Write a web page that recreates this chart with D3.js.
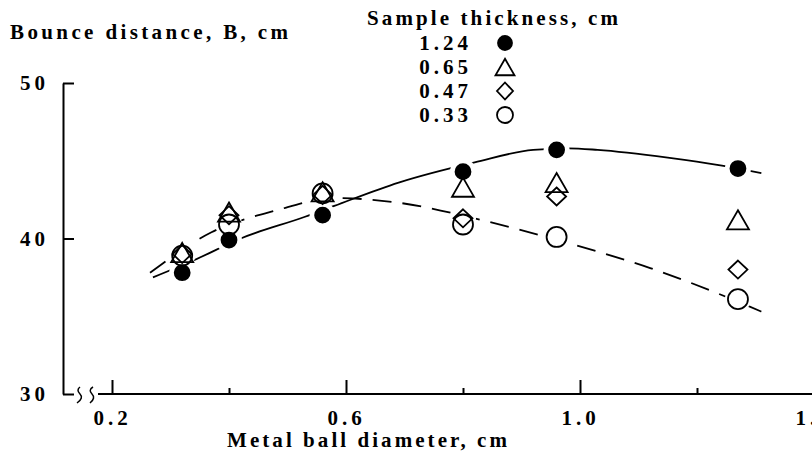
<!DOCTYPE html>
<head>
<meta charset="utf-8">
<style>
body { margin: 0; background: white; }
text { font-family: "Liberation Serif", "Times New Roman", serif; font-weight: bold; fill: black; }
.axis text { font-size: 21px; letter-spacing: 4px; }
.axis line, .axis path, .axisline { stroke: black; stroke-width: 2px; fill: none; }
.curve { fill: none; stroke: black; stroke-width: 1.8px; }
.mark { stroke: black; stroke-width: 1.8px; }
</style>
</head>
<body>
<div id="mainDiv"></div>
<script src="https://d3js.org/d3.v7.min.js"></script>
<script>

var width = 812;
var height = 458;

// measured points, ball diameter (cm) vs bounce distance B (cm)
var diameters = [0.32, 0.40, 0.56, 0.80, 0.96, 1.27];
var b124 = [37.8, 39.9, 41.5, 44.3, 45.7, 44.5];
var b065 = [39.1, 41.7, 43.0, 43.3, 43.6, 41.2];
var b047 = [39.0, 41.5, 42.8, 41.3, 42.7, 38.0];
var b033 = [38.9, 40.9, 42.9, 40.9, 40.1, 36.1];
var thickness = ["1.24", "0.65", "0.47", "0.33"];

// the two hand drawn trend curves
var solidX = [0.27, 0.34, 0.42, 0.53, 0.58, 0.69, 0.82, 0.92, 0.98, 1.03, 1.15, 1.24, 1.31];
var solidY = [37.5, 38.6, 40.0, 41.4, 42.1, 43.6, 44.9, 45.7, 45.8, 45.7, 45.2, 44.7, 44.2];
var dashX = [0.265, 0.37, 0.48, 0.58, 0.69, 0.83, 0.98, 1.12, 1.24, 1.31];
var dashY = [37.8, 40.4, 41.8, 42.6, 42.3, 41.2, 39.7, 38.1, 36.4, 35.3];

var xMajor = [0.2, 0.6, 1.0, 1.4];
var xMinor = [0.4, 0.8, 1.2];
var yTicks = [30, 40, 50];

var x = d3.scaleLinear().domain([0.2, 1.4]).range([112, 814]);
var y = d3.scaleLinear().domain([30, 50]).range([394, 83]);

var svg = d3.select("#mainDiv").append("svg")
    .attr("width", width)
    .attr("height", height);

// axes
svg.append("g")
    .attr("class", "axis")
    .attr("transform", "translate(63,0)")
    .call(d3.axisLeft(y).tickValues(yTicks).tickSizeInner(-11).tickSizeOuter(0).tickPadding(14));

svg.append("g")
    .attr("class", "axis")
    .attr("transform", "translate(0,394)")
    .call(d3.axisBottom(x).tickValues(xMajor).tickFormat(d3.format(".1f")).tickSizeInner(-14).tickPadding(16))
    .select(".domain").remove();

svg.append("g")
    .attr("class", "axis")
    .attr("transform", "translate(0,394)")
    .call(d3.axisBottom(x).tickValues(xMinor).tickFormat("").tickSizeInner(-6))
    .select(".domain").remove();

svg.append("line").attr("class", "axisline")
    .attr("x1", 98).attr("x2", width).attr("y1", 394).attr("y2", 394);

// axis break
svg.append("path").attr("class", "axisline").style("stroke-width", "1.5px")
    .attr("d", "M80,387 q-4,3 0,7 q4,4 -3,9 M93,387 q-5,3 -1,7 q4,4 -2,9");

var line = d3.line()
    .x(function(d) { return x(d[0]); })
    .y(function(d) { return y(d[1]); })
    .curve(d3.curveMonotoneX);

svg.append("path").attr("class", "curve")
    .attr("d", line(d3.zip(solidX, solidY)));

svg.append("path").attr("class", "curve")
    .style("stroke-dasharray", "19,11")
    .attr("d", line(d3.zip(dashX, dashY)));

var series = [b124, b065, b047, b033];

function triangle(cx, cy, s) {
  var h = s * 0.87;
  return "M" + cx + "," + (cy - h / 2) + "L" + (cx + s / 2) + "," + (cy + h / 2) +
    "L" + (cx - s / 2) + "," + (cy + h / 2) + "Z";
}
function diamond(cx, cy, w, h) {
  return "M" + cx + "," + (cy - h / 2) + "L" + (cx + w / 2) + "," + cy +
    "L" + cx + "," + (cy + h / 2) + "L" + (cx - w / 2) + "," + cy + "Z";
}

function drawMark(g, i, cx, cy, big) {
  if (i == 0) {
    g.append("circle").attr("class", "mark").attr("cx", cx).attr("cy", cy)
      .attr("r", big ? 7.5 : 7).style("fill", "black");
  } else if (i == 1) {
    g.append("path").attr("class", "mark").style("fill", "none")
      .attr("d", triangle(cx, cy, big ? 22 : 19));
  } else if (i == 2) {
    g.append("path").attr("class", "mark").style("fill", "none")
      .attr("d", big ? diamond(cx, cy, 19, 18) : diamond(cx, cy, 16, 17));
  } else {
    g.append("circle").attr("class", "mark").attr("cx", cx).attr("cy", cy)
      .attr("r", big ? 10 : 8).style("fill", "none");
  }
}

// white gaps where the curves meet the points
var halo = svg.append("g");
series.forEach(function(vals) {
  halo.selectAll(null)
    .data(d3.zip(diameters, vals))
    .enter().append("circle")
    .attr("cx", function(d) { return x(d[0]); })
    .attr("cy", function(d) { return y(d[1]); })
    .attr("r", 13)
    .style("fill", "white");
});

var marks = svg.append("g");
series.forEach(function(vals, i) {
  diameters.forEach(function(dx, j) {
    drawMark(marks, i, x(dx), y(vals[j]), true);
  });
});

// titles
svg.append("text")
    .attr("x", 10).attr("y", 39)
    .attr("textLength", 278).attr("lengthAdjust", "spacing")
    .style("font-size", "21px")
    .text("Bounce distance, B, cm");

svg.append("text")
    .attr("x", 227).attr("y", 447)
    .attr("textLength", 280).attr("lengthAdjust", "spacing")
    .style("font-size", "21px")
    .text("Metal ball diameter, cm");

// legend
var legend = svg.append("g");
legend.append("text")
    .attr("x", 367).attr("y", 25)
    .attr("textLength", 251).attr("lengthAdjust", "spacing")
    .style("font-size", "21px")
    .text("Sample thickness, cm");

thickness.forEach(function(t, i) {
  legend.append("text")
      .attr("x", 468 + 4).attr("y", 50 + i * 24)
      .attr("text-anchor", "end")
      .style("font-size", "21px")
      .style("letter-spacing", "4px")
      .text(t);
  drawMark(legend, i, 505, 43 + i * 24, false);
});

</script>
</body>
</html>
